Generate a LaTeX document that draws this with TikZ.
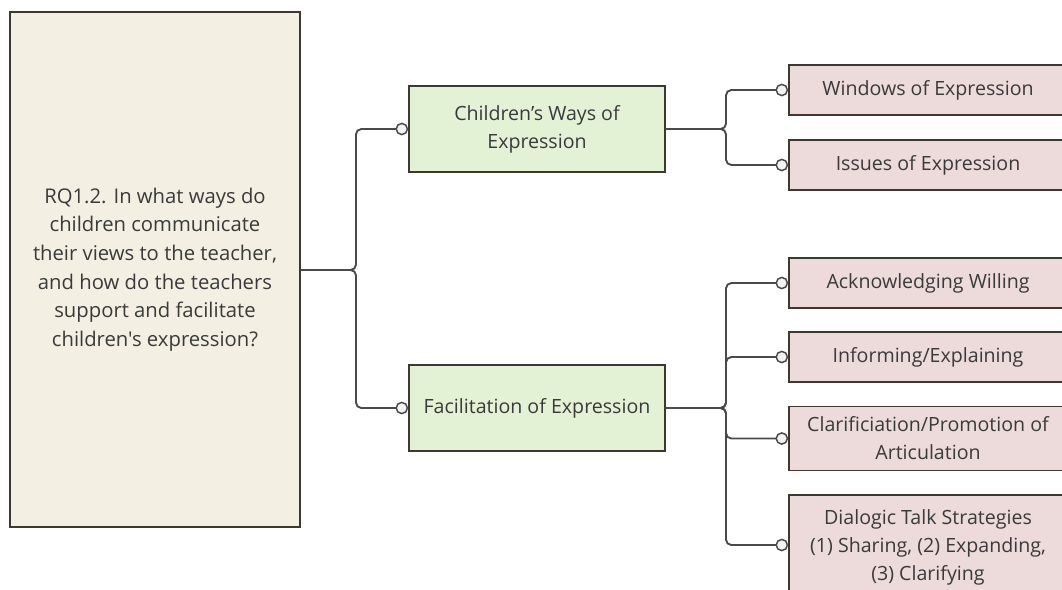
\documentclass[tikz,border=0pt]{standalone}
\usepackage{fontspec}
\setmainfont{Open Sans}[Ligatures=TeXOff]
\usetikzlibrary{arrows.meta}
\definecolor{cream}{HTML}{F3F0E3}
\definecolor{leaf}{HTML}{E3F2D4}
\definecolor{rose}{HTML}{EDDADB}
\definecolor{edge}{HTML}{3D3830}
\definecolor{ink}{HTML}{3A3A3A}
\definecolor{wire}{HTML}{4A4A4A}
\definecolor{dot}{HTML}{F2F2F2}
\tikzset{
  box/.style={draw=edge, line width=1.3pt, text=ink, align=center, inner sep=0pt,
    font=\fontsize{14.7}{21}\selectfont},
  rootbox/.style={box, fill=cream, font=\fontsize{15.2}{21.5}\selectfont},
  midbox/.style={box, fill=leaf, minimum width=192pt, minimum height=64.5pt},
  leafbox/.style={box, fill=rose, minimum width=208.5pt},
  conn/.style={draw=wire, line width=1.4pt, rounded corners=4pt,
    -{Circle[open, fill=dot, length=9.5pt, width=9.5pt, line width=1.1pt]}},
}
\begin{document}
\begin{tikzpicture}[x=0.75pt, y=-0.75pt]
\path[use as bounding box] (0,0) rectangle (1062,589);
\fill[white] (0,0) rectangle (1062,589);
\begin{scope}
\clip (0,0) rectangle (1062,589);
\node[rootbox, minimum width=217.5pt, minimum height=386.25pt] (root) at (155,269.5)
  {RQ1.2. In what ways do\\children communicate\\their views to the teacher,\\and how do the teachers\\support and facilitate\\children's expression?};
\node[midbox] (ways) at (537,129) {Children’s Ways of\\Expression};
\node[midbox] (fac) at (537,408) {Facilitation of Expression};
\node[leafbox, minimum height=37.5pt] (win) at (928,90) {Windows of Expression};
\node[leafbox, minimum height=37.5pt] (iss) at (928,165) {Issues of Expression};
\node[leafbox, minimum height=37.5pt] (ack) at (928,283) {Acknowledging Willing};
\node[leafbox, minimum height=37.5pt] (inf) at (928,357) {Informing/Explaining};
\node[leafbox, minimum height=48pt] (cla) at (928,438.5) {Clarificiation/Promotion of\\Articulation};
\node[leafbox, minimum height=78.75pt] (dia) at (928,547.5) {Dialogic Talk Strategies\\(1) Sharing, (2) Expanding,\\(3) Clarifying};
\end{scope}
\coordinate (j0) at (356,270);
\coordinate (j1) at (726,129);
\coordinate (j2) at (726,408);
\draw[conn] (root.east |- j0) -- (j0) |- (ways.west);
\draw[conn] (root.east |- j0) -- (j0) |- (fac.west);
\draw[conn] (ways.east) -- (j1) |- (win.west);
\draw[conn] (ways.east) -- (j1) |- (iss.west);
\draw[conn] (fac.east) -- (j2) |- (ack.west);
\draw[conn] (fac.east) -- (j2) |- (inf.west);
\draw[conn] (fac.east) -- (j2) |- (cla.west);
\draw[conn] (fac.east) -- (j2) |- (dia.west |- 0,545);
\end{tikzpicture}
\end{document}
